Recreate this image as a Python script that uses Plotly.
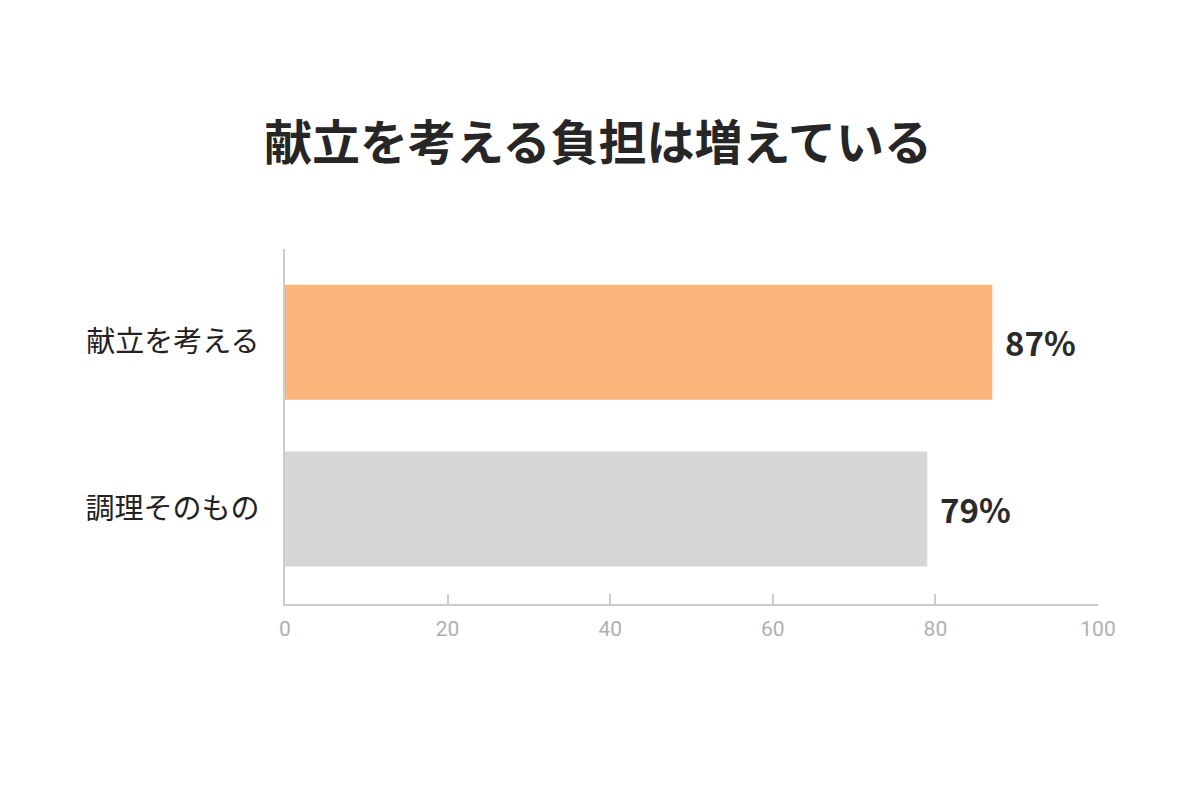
import plotly.graph_objects as go

# data
categories = ["献立を考える", "調理そのもの"]
values = [87, 79]
bar_colors = ["#F9B57A", "#D6D6D6"]
value_labels = ["87%", "79%"]
tick_vals = [0, 20, 40, 60, 80, 100]

FONT = "Noto Sans CJK JP, Noto Sans, sans-serif"

fig = go.Figure()
fig.add_bar(
    x=values, y=categories, orientation="h",
    marker=dict(color=bar_colors, line=dict(width=0)),
    width=0.69,
    hoverinfo="skip",
)

# value labels just right of each bar end
for cat, val, lab in zip(categories, values, value_labels):
    fig.add_annotation(
        x=val, y=cat, text="<b>%s</b>" % lab, showarrow=False,
        xanchor="left", yanchor="middle", xshift=11,
        font=dict(family=FONT, size=33, color="#2a2a2a"),
    )

fig.update_layout(
    width=1200, height=800,
    paper_bgcolor="white", plot_bgcolor="white",
    margin=dict(l=277, r=110, t=241, b=204),
    showlegend=False,
    title=dict(
        text="<b>献立を考える負担は増えている</b>",
        x=590 / 1200, xanchor="center", xref="container",
        y=1 - 135 / 800, yanchor="middle", yref="container",
        font=dict(family=FONT, size=48, color="#262626"),
    ),
    xaxis=dict(
        range=[0, 100], tickvals=tick_vals,
        showgrid=False, zeroline=False,
        showline=True, linecolor="#cccccc", linewidth=1.5,
        ticks="inside", ticklen=10, tickcolor="#cccccc", tickwidth=1.5,
        tickfont=dict(family="Roboto, sans-serif", size=21, color="#b0b0b0"),
        ticklabelstandoff=5,
    ),
    yaxis=dict(
        autorange=False, range=[1.57, -0.56],
        categoryorder="array", categoryarray=categories,
        showgrid=False, zeroline=False,
        showline=True, linecolor="#cccccc", linewidth=1.5,
        ticks="", ticklabelstandoff=18,
        tickfont=dict(family=FONT, size=29, color="#222222"),
    ),
)

fig.write_html("out.html")
